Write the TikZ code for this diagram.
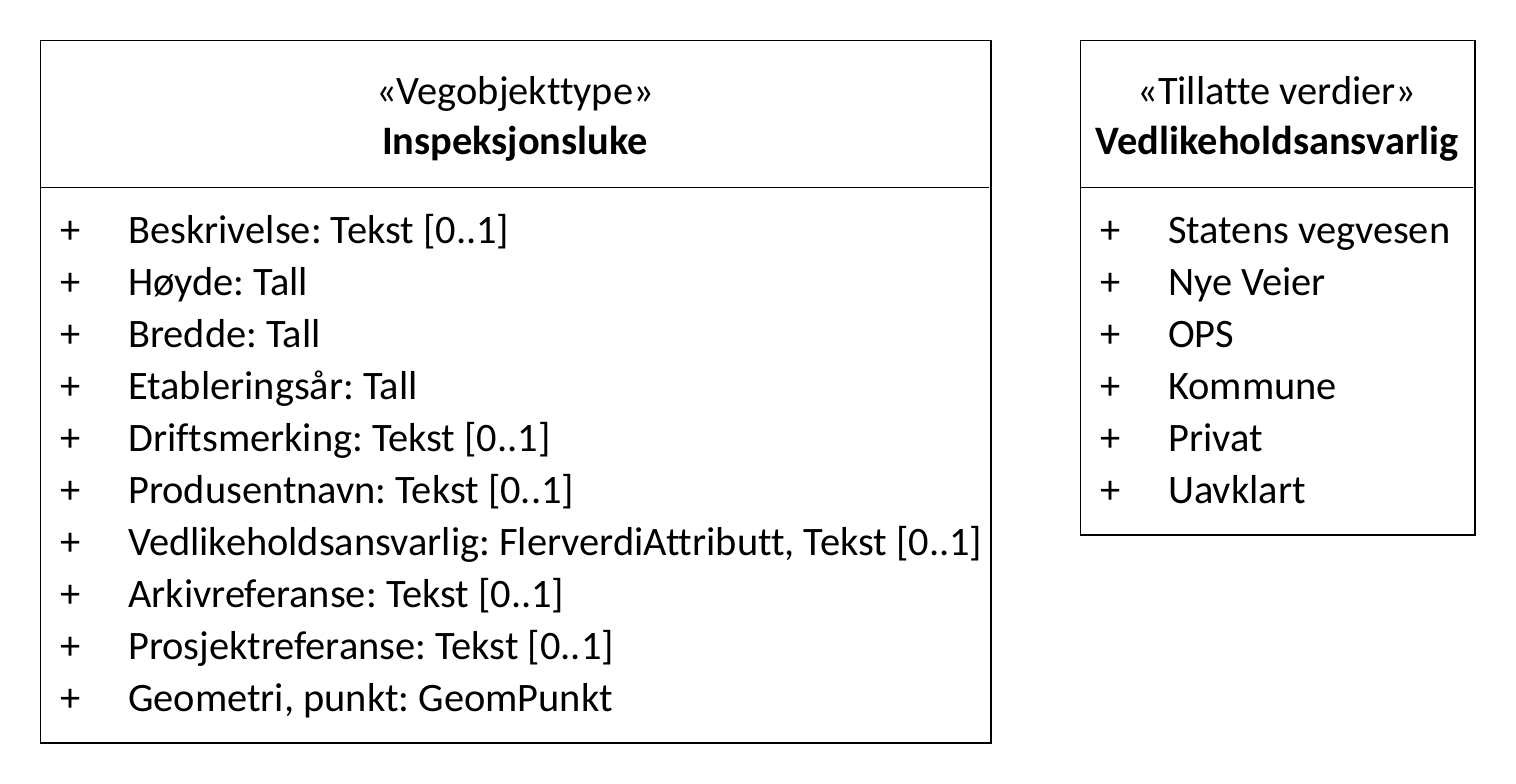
\documentclass[tikz,border=0pt]{standalone}
\usepackage{fontspec}
\setmainfont{Carlito}[Ligatures=CommonOff,RawFeature={-liga;-clig;-dlig}]
\frenchspacing
\begin{document}
\begin{tikzpicture}[x=1pt,y=-1pt,
  txt/.style={inner sep=0pt,anchor=base west,font=\fontsize{40.4}{48}\selectfont},
  ttl/.style={inner sep=0pt,anchor=base,font=\fontsize{40.4}{48}\selectfont},
  boxline/.style={draw=black,line width=1.2pt}]
\useasboundingbox (0,0) rectangle (1516,784);
% left class
\coordinate (L1) at (40.5,40.5);
\coordinate (L2) at (991,743);
\draw[boxline] (L1) rectangle (L2);
\coordinate (LS1) at (40.5,187.5);
\coordinate (LS2) at (989,187.5);
\draw[boxline] (LS1) -- (LS2);
\node[ttl] (lst) at (515,104) {«Vegobjekttype»};
\node[ttl] (lnm) at (515,154) {\bfseries Inspeksjonsluke};
\foreach \t [count=\i] in {Beskrivelse: Tekst [0..1],Høyde: Tall,Bredde: Tall,Etableringsår: Tall,Driftsmerking: Tekst [0..1],Produsentnavn: Tekst [0..1],{Vedlikeholdsansvarlig: FlerverdiAttributt, Tekst [0..1]},Arkivreferanse: Tekst [0..1],Prosjektreferanse: Tekst [0..1],{Geometri, punkt: GeomPunkt}}{
  \node[txt] (lp\i) at (60,{243+52*(\i-1)}) {+};
  \node[txt] (la\i) at (128,{243+52*(\i-1)}) {\t};
}
% right class
\coordinate (R1) at (1080.5,40.5);
\coordinate (R2) at (1475,535);
\draw[boxline] (R1) rectangle (R2);
\coordinate (RS1) at (1080.5,187.5);
\coordinate (RS2) at (1473,187.5);
\draw[boxline] (RS1) -- (RS2);
\node[ttl] (rst) at (1277,104) {«Tillatte verdier»};
\node[ttl] (rnm) at (1277,154) {\bfseries Vedlikeholdsansvarlig};
\foreach \t [count=\i] in {Statens vegvesen,Nye Veier,OPS,Kommune,Privat,Uavklart}{
  \node[txt] (rp\i) at (1100,{243+52*(\i-1)}) {+};
  \node[txt] (ra\i) at (1168,{243+52*(\i-1)}) {\t};
}
\end{tikzpicture}
\end{document}
